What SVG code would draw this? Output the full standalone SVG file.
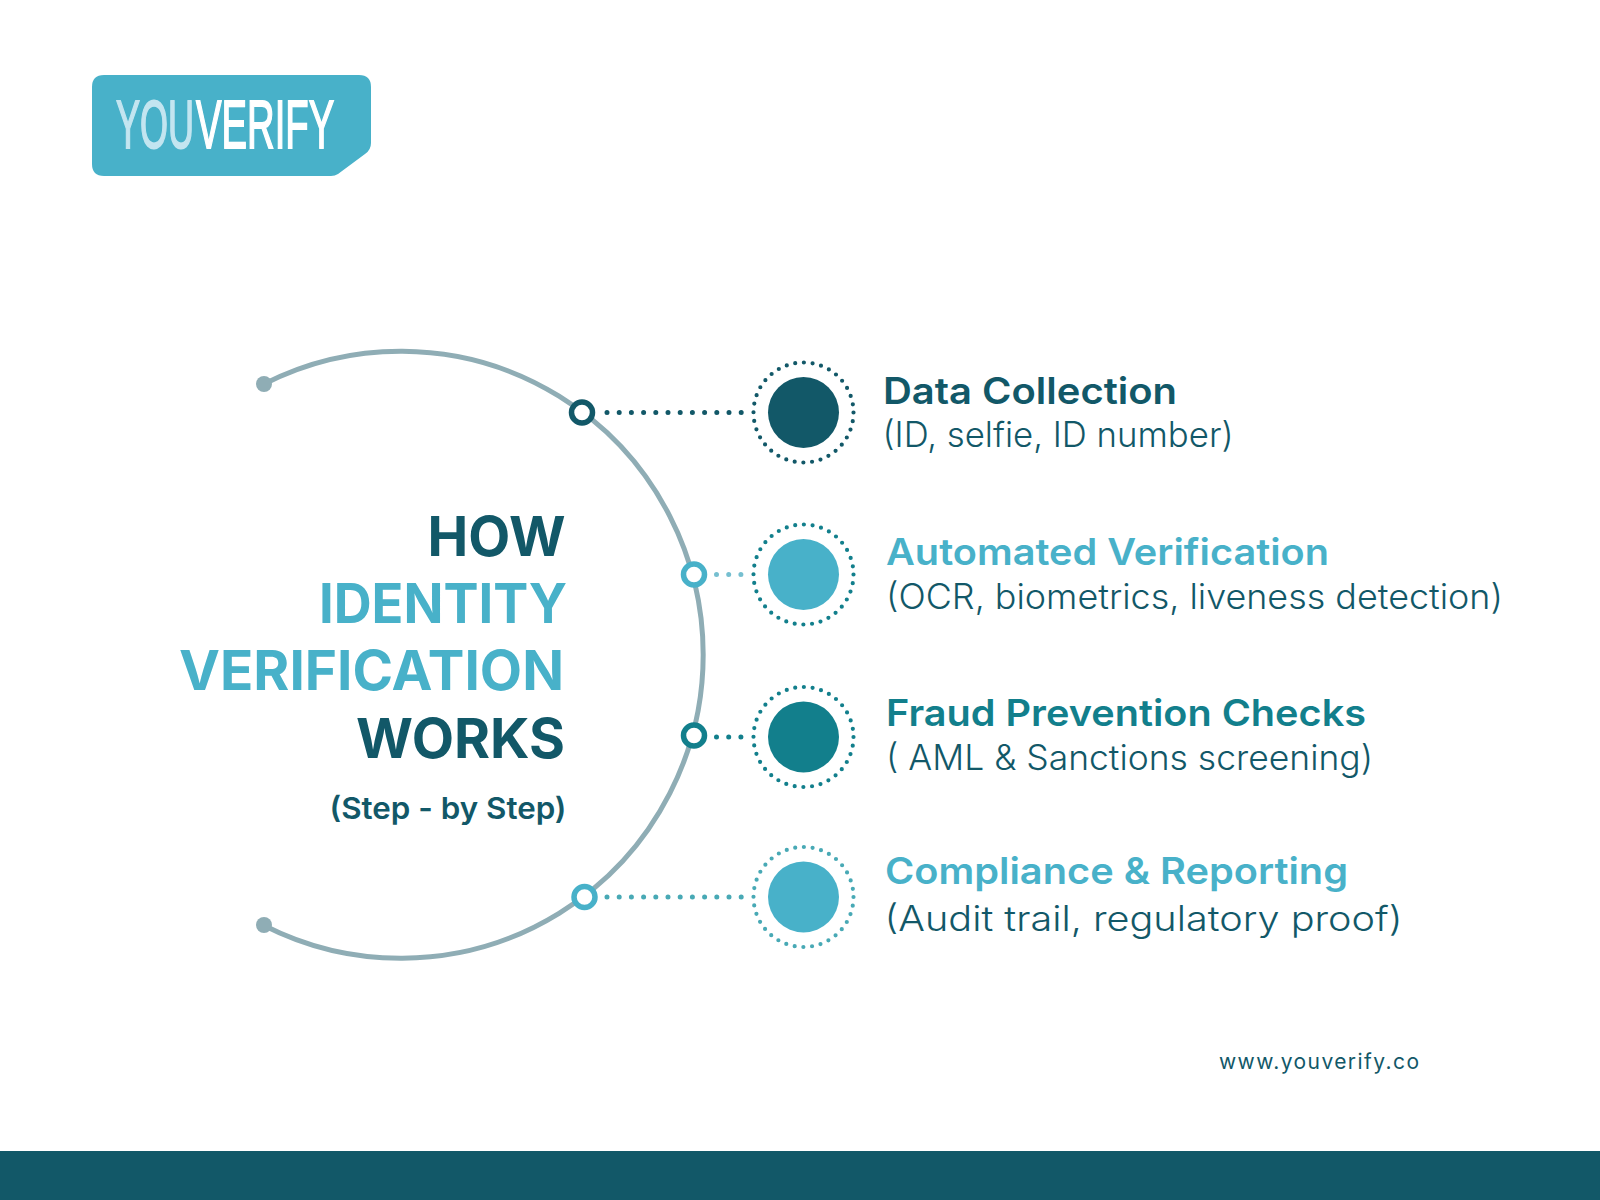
<svg xmlns="http://www.w3.org/2000/svg" width="1600" height="1200" viewBox="0 0 1600 1200">
<style>
text{font-family:"Inter","Noto Sans","Liberation Sans",sans-serif;font-kerning:normal}
.h{font-size:55px;font-weight:700;text-anchor:end}
.t{font-size:37px;font-weight:600}
.s{font-size:35px;font-weight:300;fill:#125868}
.d{fill:#125868}.l{fill:#48b1c9}.m{fill:#127f8c}
.conn{fill:none;stroke-width:5;stroke-dasharray:0 12.2;stroke-linecap:round}
.ring{fill:none;stroke-width:4.200;stroke-dasharray:0 8.727;stroke-linecap:round}
.port{fill:#fff;stroke-width:5.500}
.logo{font-family:"Liberation Sans",sans-serif;font-size:68px;stroke-width:1.800}
</style>
<rect width="1600" height="1200" fill="#fff"/>
<rect y="1151" width="1600" height="49" fill="#125868"/>
<g id="logo">
<path d="M104 75H359Q371 75 371 87V143Q371 150 365 154L338 174Q335 176 331 176H104Q92 176 92 164V87Q92 75 104 75Z" fill="#48b1c9"/>
<text class="logo" transform="translate(116 148) scale(0.53 1)" fill="#c3e5f0" stroke="#c3e5f0">YOU</text>
<text class="logo" transform="translate(196 148) scale(0.563 1)" fill="#fff" stroke="#fff">VERIFY</text>
</g>
<g id="connectors">
<path d="M264 384A302.500 303.500 0 1 1 264 925.500" fill="none" stroke="#8fadb5" stroke-width="5"/>
<circle cx="264" cy="384" r="8" fill="#8fadb5"/>
<circle cx="264" cy="925" r="8" fill="#8fadb5"/>
<path class="conn" d="M607 412.500H745" stroke="#125868"/>
<path class="conn" d="M716.500 574.500H745" stroke="#76bfd0"/>
<path class="conn" d="M716.500 737H745" stroke="#127f8c"/>
<path class="conn" d="M607 897H745" stroke="#48a9b5"/>
</g>
<g id="title">
<text class="h d" x="565.500" y="556" textLength="138" lengthAdjust="spacingAndGlyphs">HOW</text>
<text class="h l" x="567" y="623" textLength="248" lengthAdjust="spacingAndGlyphs">IDENTITY</text>
<text class="h l" x="564" y="690" textLength="385" lengthAdjust="spacingAndGlyphs">VERIFICATION</text>
<text class="h d" x="565" y="758" textLength="209" lengthAdjust="spacingAndGlyphs">WORKS</text>
<text class="d" x="566.500" y="819" text-anchor="end" font-size="30" font-weight="600" textLength="237" lengthAdjust="spacingAndGlyphs">(Step - by Step)</text>
</g>
<g id="step1">
<circle class="port" cx="582" cy="412.500" r="10.500" stroke="#125868"/>
<circle class="ring" cx="803.500" cy="412.500" r="50" stroke="#125868"/>
<circle class="d" cx="803.500" cy="412.500" r="35.500"/>
<text class="t d" x="883" y="403.500" textLength="294" lengthAdjust="spacingAndGlyphs">Data Collection</text>
<text class="s" x="882.500" y="447" textLength="351" lengthAdjust="spacingAndGlyphs">(ID, selfie, ID number)</text>
</g>
<g id="step2">
<circle class="port" cx="694" cy="574.500" r="10.500" stroke="#48b1c9"/>
<circle class="ring" cx="803.500" cy="574.500" r="50" stroke="#127f8c"/>
<circle class="l" cx="803.500" cy="574.500" r="35.500"/>
<text class="t l" x="886" y="565" textLength="443" lengthAdjust="spacingAndGlyphs">Automated Verification</text>
<text class="s" x="886" y="609" textLength="617" lengthAdjust="spacingAndGlyphs">(OCR, biometrics, liveness detection)</text>
</g>
<g id="step3">
<circle class="port" cx="694" cy="735.500" r="10.500" stroke="#127f8c"/>
<circle class="ring" cx="803.500" cy="737" r="50" stroke="#127f8c"/>
<circle class="m" cx="803.500" cy="737" r="35.500"/>
<text class="t m" x="886" y="726" textLength="480" lengthAdjust="spacingAndGlyphs">Fraud Prevention Checks</text>
<text class="s" x="886" y="770" textLength="487" lengthAdjust="spacingAndGlyphs">( AML &amp; Sanctions screening)</text>
</g>
<g id="step4">
<circle class="port" cx="584.500" cy="897" r="10.500" stroke="#48b1c9"/>
<circle class="ring" cx="803.500" cy="897" r="50" stroke="#48a9b5"/>
<circle class="l" cx="803.500" cy="897" r="35.500"/>
<text class="t l" x="885" y="883.500" textLength="463" lengthAdjust="spacingAndGlyphs">Compliance &amp; Reporting</text>
<text class="s" x="884.500" y="931" textLength="518" lengthAdjust="spacingAndGlyphs">(Audit trail, regulatory proof)</text>
</g>
<text class="d" x="1219" y="1069" font-size="21" textLength="200" lengthAdjust="spacing">www.youverify.co</text>
</svg>
